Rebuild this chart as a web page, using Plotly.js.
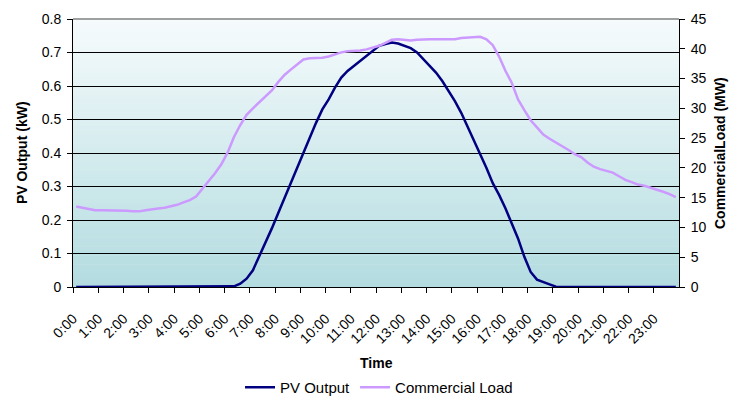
<!DOCTYPE html>
<html>
<head>
<meta charset="utf-8">
<script src="https://cdn.plot.ly/plotly-3.0.1.min.js"></script>
<style>
html,body{margin:0;padding:0;background:#fff;}
#chart{width:731px;height:398px;}
</style>
</head>
<body>
<div id="chart"></div>
<script>
// 15-minute readings, 0:00 .. 23:45
const hourLabels = ["0:00","1:00","2:00","3:00","4:00","5:00","6:00","7:00","8:00","9:00","10:00","11:00",
  "12:00","13:00","14:00","15:00","16:00","17:00","18:00","19:00","20:00","21:00","22:00","23:00"];

const pvOutput = [
  0,0,0,0,  0,0,0,0,  0,0,0,0,  0,0,0,0,  0,0,0,0,  0,0,0,0,
  0,0.002,0.01,0.025,
  0.05,0.09,0.13,0.175,
  0.22,0.265,0.315,0.36,
  0.40,0.445,0.49,0.53,
  0.56,0.595,0.625,0.645,
  0.66,0.675,0.69,0.705,
  0.72,0.725,0.73,0.727,
  0.72,0.713,0.70,0.68,
  0.66,0.64,0.615,0.585,
  0.555,0.52,0.48,0.44,
  0.395,0.355,0.31,0.275,
  0.235,0.19,0.145,0.09,
  0.045,0.022,0.016,0.008,
  0.001,0,0,0,
  0,0,0,0,  0,0,0,0,  0,0,0,0,  0,0,0,0
];

const commercialLoad = [
  13.5,13.3,13.0,12.9,
  12.9,12.9,12.9,12.9,
  12.8,12.7,12.7,12.9,
  13.1,13.2,13.3,13.5,
  13.8,14.2,14.6,15.2,
  16.6,17.8,19.1,20.6,
  22.6,25.2,27.2,28.9,
  30.0,31.0,31.9,33.0,
  34.4,35.6,36.5,37.4,
  38.2,38.4,38.4,38.5,
  38.7,39.1,39.4,39.6,
  39.6,39.7,39.9,40.2,
  40.5,41.0,41.5,41.6,
  41.5,41.4,41.5,41.6,
  41.6,41.6,41.6,41.6,
  41.6,41.8,41.9,41.9,
  42.0,41.6,40.6,38.7,
  36.3,34.3,31.5,29.7,
  28.0,26.8,25.6,24.9,
  24.3,23.6,23.0,22.3,
  21.8,20.9,20.2,19.8,
  19.5,19.2,18.6,18.0,
  17.6,17.2,17.0,16.7,
  16.4,16.0,15.6,15.1
];

const idx = pvOutput.map((_, i) => i);
const perHour = 4;
const tickVals = hourLabels.map((_, k) => k * perHour - 0.5);

// vertical gradient background built from bands
const topC = [246, 251, 252], botC = [179, 220, 224];
const nBands = 60;
const shapes = [];
for (let b = 0; b < nBands; b++) {
  const f = (b + 0.5) / nBands; // 0 at bottom
  const c = topC.map((t, j) => Math.round(botC[j] + (t - botC[j]) * f));
  shapes.push({type:'rect', xref:'paper', yref:'paper', x0:0, x1:1,
    y0:b / nBands, y1:(b + 1) / nBands + 0.002, layer:'below',
    line:{width:0}, fillcolor:`rgb(${c[0]},${c[1]},${c[2]})`});
}
shapes.push({type:'line', xref:'paper', yref:'paper', x0:0, x1:1, y0:1, y1:1,
  line:{color:'#808080', width:1.5}});

const fontFam = '"Liberation Sans", Arial, sans-serif';

const traces = [
  {x: idx, y: pvOutput, name: 'PV Output', type: 'scatter', mode: 'lines',
   line: {color: '#000080', width: 2.5}, yaxis: 'y'},
  {x: idx, y: commercialLoad, name: 'Commercial Load', type: 'scatter', mode: 'lines',
   line: {color: '#CC99FF', width: 2.5}, yaxis: 'y2'}
];

const layout = {
  width: 731, height: 398,
  margin: {l: 73, r: 52, t: 19, b: 111, autoexpand: false},
  paper_bgcolor: '#ffffff',
  plot_bgcolor: 'rgba(0,0,0,0)',
  font: {family: fontFam, size: 14, color: '#000'},
  showlegend: true,
  legend: {orientation: 'h', x: 0.505, xanchor: 'center', y: -0.375, yanchor: 'middle',
    font: {size: 15, family: fontFam}, bgcolor: 'rgba(0,0,0,0)', tracegroupgap: 0},
  xaxis: {
    range: [-0.5, idx.length - 0.5],
    tickmode: 'array', tickvals: tickVals, ticktext: hourLabels,
    tickangle: -45, ticks: 'outside', ticklen: 5, tickcolor: '#000',
    tickfont: {size: 14, family: fontFam}, ticklabelstandoff: 12,
    showgrid: false, zeroline: false, showline: true, linecolor: '#000', linewidth: 1,
    automargin: false, fixedrange: true
  },
  yaxis: {
    range: [0, 0.8], dtick: 0.1, tickformat: '.1~f',
    ticks: 'outside', ticklen: 5, tickcolor: '#000',
    tickfont: {size: 14, family: fontFam}, ticklabelstandoff: 3,
    showgrid: true, gridcolor: '#000', gridwidth: 1,
    zeroline: false, showline: true, linecolor: '#000', linewidth: 1,
    automargin: false, fixedrange: true
  },
  yaxis2: {
    range: [0, 45], dtick: 5, overlaying: 'y', side: 'right',
    ticks: 'outside', ticklen: 5, tickcolor: '#000',
    tickfont: {size: 14, family: fontFam}, ticklabelstandoff: 3,
    showgrid: false, zeroline: false, showline: true, linecolor: '#000', linewidth: 1,
    automargin: false, fixedrange: true
  },
  annotations: [
    {text: '<b>PV Output (kW)</b>', xref: 'paper', yref: 'paper', x: -0.084, y: 0.5,
     textangle: -90, showarrow: false, xanchor: 'center', yanchor: 'middle', font: {size: 14, family: fontFam}},
    {text: '<b>CommercialLoad (MW)</b>', xref: 'paper', yref: 'paper', x: 1.0677, y: 0.5,
     textangle: -90, showarrow: false, xanchor: 'center', yanchor: 'middle', font: {size: 14, family: fontFam}},
    {text: '<b>Time</b>', xref: 'paper', yref: 'paper', x: 0.5, y: -0.2836,
     showarrow: false, xanchor: 'center', yanchor: 'middle', font: {size: 14, family: fontFam}}
  ],
  shapes: shapes
};

Plotly.newPlot('chart', traces, layout, {staticPlot: true, displayModeBar: false});
</script>
</body>
</html>
